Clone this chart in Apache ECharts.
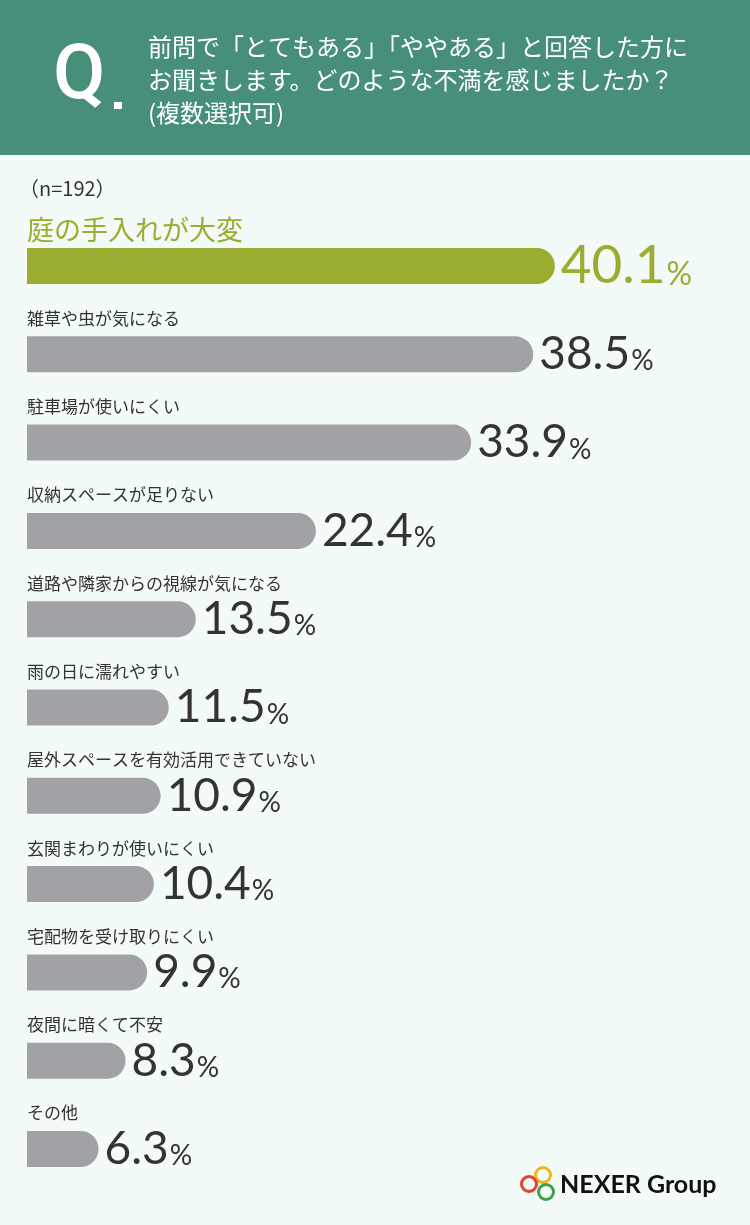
<!DOCTYPE html>
<html>
<head>
<meta charset="utf-8">
<script src="https://cdn.jsdelivr.net/npm/echarts@6/dist/echarts.min.js"></script>
<style>
html,body{margin:0;padding:0;background:#f2fbf8;}
#chart{width:750px;height:1225px;}
</style>
</head>
<body>
<div id="chart"></div>
<script>
const titleLines = ['前問で「とてもある」「ややある」と回答した方に', 'お聞きします。どのような不満を感じましたか？', '(複数選択可)'];
const sampleNote = '（n=192）';
const categories = ['庭の手入れが大変', '雑草や虫が気になる', '駐車場が使いにくい', '収納スペースが足りない', '道路や隣家からの視線が気になる', '雨の日に濡れやすい', '屋外スペースを有効活用できていない', '玄関まわりが使いにくい', '宅配物を受け取りにくい', '夜間に暗くて不安', 'その他'];
const values = [40.1, 38.5, 33.9, 22.4, 13.5, 11.5, 10.9, 10.4, 9.9, 8.3, 6.3];

const GREEN = '#9aad30';
const GRAY = '#a1a2a6';
const DARK = '#333333';

const chart = echarts.init(document.getElementById('chart'), null, {renderer: 'canvas'});
chart.setOption({
  backgroundColor: '#f2fbf8',
  animation: false,
  title: {
    text: titleLines.join('\n'),
    left: 148,
    top: 30,
    padding: 0,
    textStyle: {
      color: '#ffffff',
      fontSize: 24,
      lineHeight: 33,
      fontWeight: 'normal',
      fontFamily: 'Noto Sans CJK JP'
    }
  },
  graphic: [
    {type: 'rect', z: -10, shape: {x: 0, y: 0, width: 750, height: 155}, style: {fill: '#478f7a'}},
    {type: 'text', z: 10, style: {text: 'Q', x: 53, y: 79, fill: '#ffffff', fontSize: 76, fontWeight: 500, fontFamily: 'Roboto', textVerticalAlign: 'middle'}},
    {type: 'rect', z: 10, shape: {x: 114, y: 102, width: 8, height: 7}, style: {fill: '#ffffff'}},
    {type: 'text', style: {text: sampleNote, x: 19, y: 188, fill: DARK, fontSize: 20, fontFamily: 'Noto Sans CJK JP', textVerticalAlign: 'middle'}},
    {type: 'circle', shape: {cx: 543, cy: 1175, r: 7.5}, style: {fill: 'none', stroke: '#f2b51c', lineWidth: 3}},
    {type: 'circle', shape: {cx: 529, cy: 1184, r: 7.5}, style: {fill: 'none', stroke: '#e3402e', lineWidth: 3}},
    {type: 'circle', shape: {cx: 546, cy: 1192, r: 7.5}, style: {fill: 'none', stroke: '#3aa34a', lineWidth: 3}},
    {type: 'text', style: {text: 'NEXER Group', x: 560, y: 1185, fill: '#111111', fontSize: 25, fontWeight: 'bold', fontFamily: 'Lato', textVerticalAlign: 'middle'}}
  ],
  grid: {left: 27, right: 61.5, top: 221.85, height: 971.3, containLabel: false},
  xAxis: {type: 'value', min: 1, max: 50, show: false},
  yAxis: {
    type: 'category',
    inverse: true,
    data: categories,
    axisLine: {show: false},
    axisTick: {show: false},
    splitLine: {show: false},
    axisLabel: {
      inside: true,
      margin: 0,
      align: 'left',
      verticalAlign: 'middle',
      padding: [0, 0, 72, 0],
      formatter: function (v, i) { return i === 0 ? '{h|' + v + '}' : '{n|' + v + '}'; },
      rich: {
        h: {fontSize: 27, color: GREEN, fontFamily: 'Noto Sans CJK JP'},
        n: {fontSize: 17, color: DARK, fontFamily: 'Noto Sans CJK JP'}
      }
    }
  },
  series: [{
    type: 'bar',
    data: values.map(function (v, i) {
      return {value: v, itemStyle: {color: i === 0 ? GREEN : GRAY}};
    }),
    barWidth: 36,
    clip: true,
    itemStyle: {borderRadius: [0, 18, 18, 0]},
    label: {
      show: true,
      position: 'right',
      distance: 6,
      formatter: function (p) {
        return p.dataIndex === 0 ? '{bn|' + p.value + '}{bp|%}' : '{n|' + p.value + '}{p|%}';
      },
      rich: {
        n: {fontSize: 46, color: DARK, fontFamily: 'Lato', verticalAlign: 'bottom', lineHeight: 46},
        p: {fontSize: 28, color: DARK, fontFamily: 'Lato', verticalAlign: 'bottom', lineHeight: 46, padding: [0, 0, 2, 1]},
        bn: {fontSize: 53, color: GREEN, fontFamily: 'Lato', verticalAlign: 'bottom', lineHeight: 53},
        bp: {fontSize: 32, color: GREEN, fontFamily: 'Lato', verticalAlign: 'bottom', lineHeight: 53, padding: [0, 0, 2, 1]}
      }
    }
  }]
});
</script>
</body>
</html>
